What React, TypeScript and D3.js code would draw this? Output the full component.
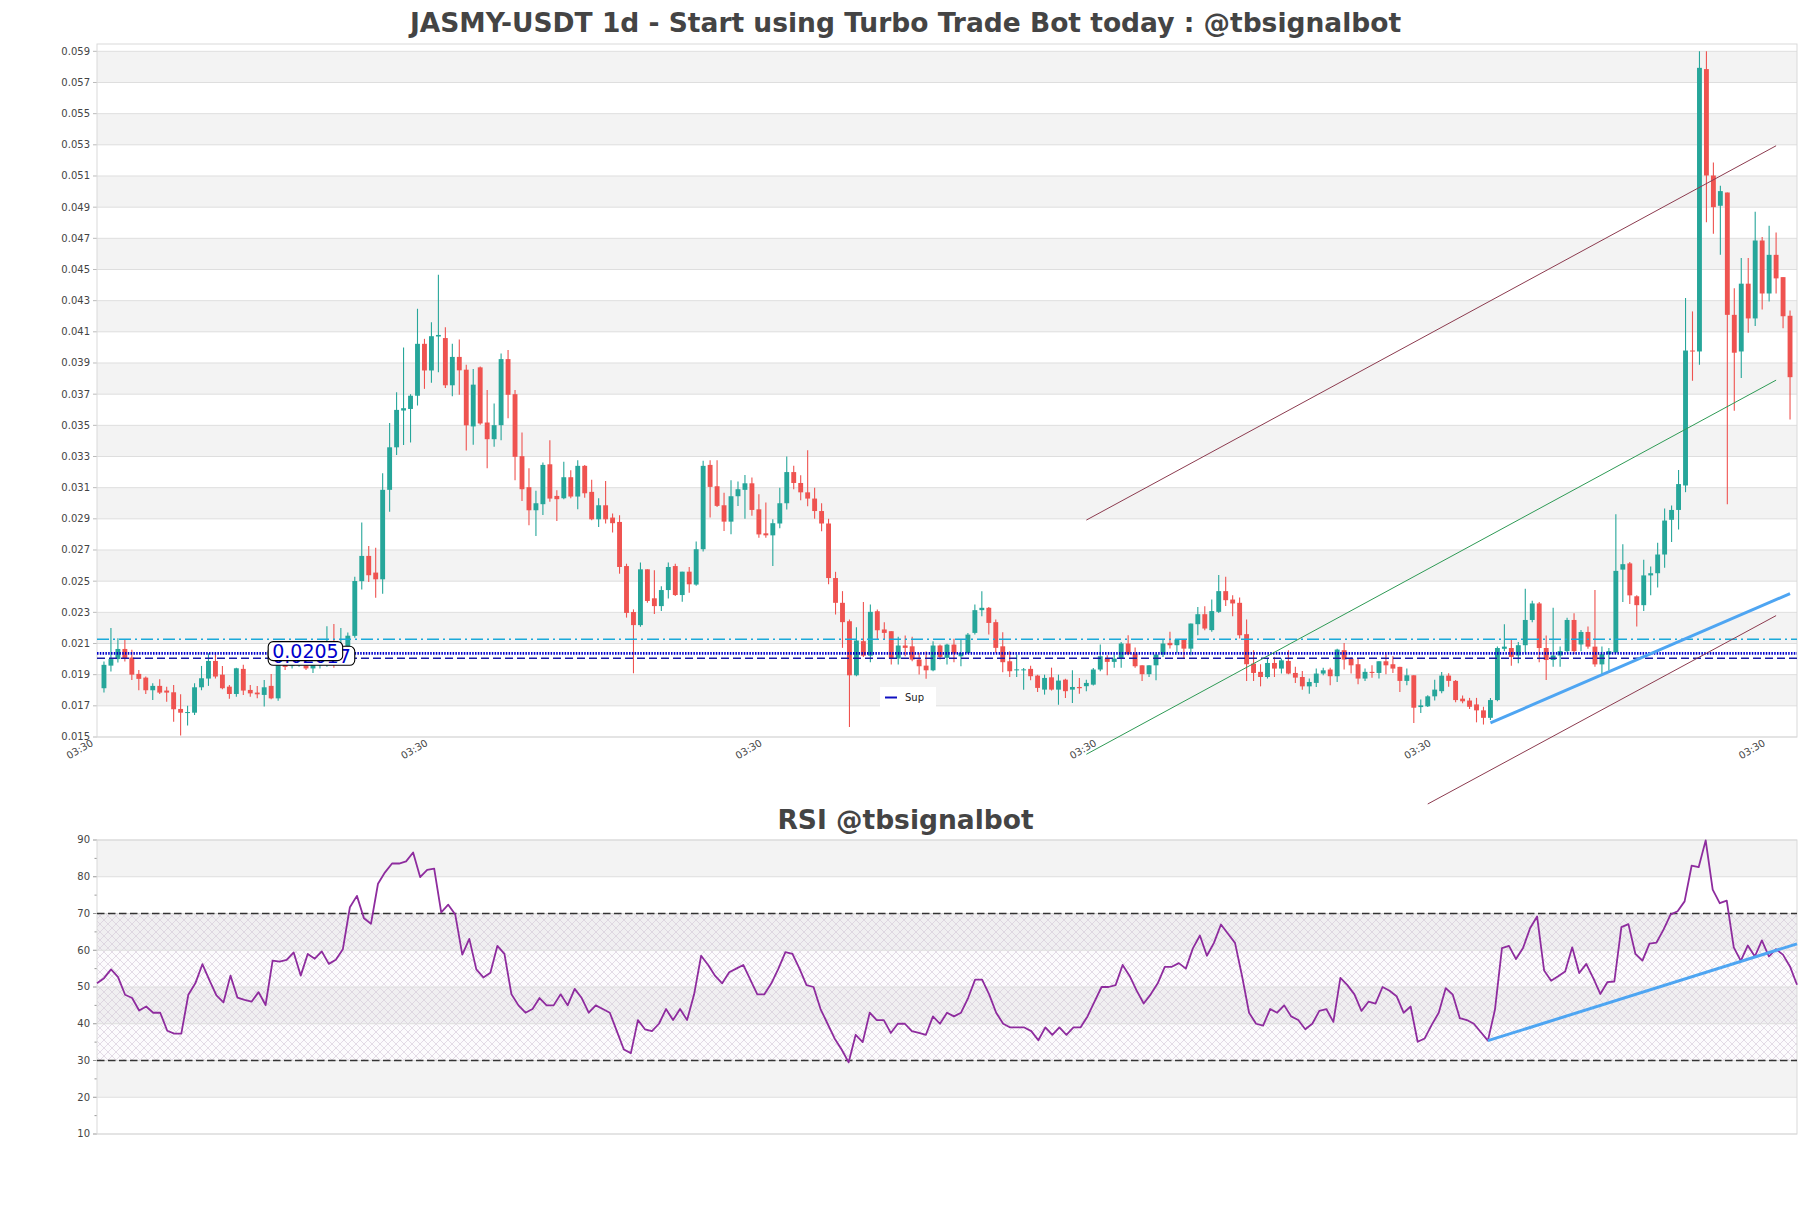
import { useEffect, useRef } from "react";
import * as d3 from "d3";

// daily candles, oldest first
const candleOpen = [
  0.01813, 0.01958, 0.02, 0.02065, 0.0201, 0.01905, 0.01881, 0.018, 0.01828, 0.01798,
  0.01787, 0.0168, 0.01656, 0.01656, 0.01819, 0.01875, 0.01988, 0.019, 0.01823, 0.01776,
  0.01937, 0.01802, 0.01785, 0.0177, 0.01828, 0.01748, 0.0197, 0.01955, 0.0196, 0.0196,
  0.0194, 0.0196, 0.0197, 0.0204, 0.02, 0.0208, 0.02149, 0.025, 0.02662, 0.02555,
  0.02512, 0.03086, 0.03359, 0.03595, 0.03605, 0.0369, 0.04023, 0.03852, 0.0407, 0.0406,
  0.03757, 0.03939, 0.03857, 0.03493, 0.03872, 0.03518, 0.03411, 0.03501, 0.03925, 0.037,
  0.03302, 0.03103, 0.02955, 0.02994, 0.0325, 0.03047, 0.03032, 0.03167, 0.03043, 0.0324,
  0.03073, 0.02897, 0.02987, 0.02908, 0.0288, 0.02597, 0.02302, 0.02218, 0.02576, 0.0239,
  0.0234, 0.02443, 0.02597, 0.02411, 0.02561, 0.02478, 0.02705, 0.03246, 0.03109, 0.02987,
  0.02882, 0.03045, 0.03086, 0.03128, 0.02961, 0.02807, 0.02794, 0.0287, 0.03, 0.032,
  0.0313, 0.0307, 0.0303, 0.0295, 0.0287, 0.0252, 0.02361, 0.02243, 0.01896, 0.02115,
  0.02022, 0.02307, 0.0219, 0.02179, 0.02003, 0.02087, 0.02082, 0.01997, 0.01958, 0.01928,
  0.02087, 0.02008, 0.02093, 0.02018, 0.02039, 0.02168, 0.02314, 0.02329, 0.02237, 0.02082,
  0.01986, 0.01928, 0.01928, 0.01937, 0.01894, 0.01804, 0.01883, 0.01804, 0.01868, 0.01804,
  0.01821, 0.01826, 0.01836, 0.01933, 0.02003, 0.01982, 0.02003, 0.021, 0.02035, 0.0196,
  0.01903, 0.0196, 0.02029, 0.02104, 0.02089, 0.02125, 0.02067, 0.02224, 0.02288, 0.02186,
  0.02303, 0.02436, 0.02382, 0.02361, 0.0216, 0.01971, 0.01918, 0.01885, 0.01975, 0.01939,
  0.01988, 0.01911, 0.01885, 0.01825, 0.01847, 0.01907, 0.01933, 0.0189, 0.02057, 0.02003,
  0.01967, 0.01875, 0.01918, 0.01911, 0.01986, 0.01967, 0.0195, 0.0186, 0.01896, 0.01692,
  0.01697, 0.01761, 0.01794, 0.01894, 0.0186, 0.01746, 0.01734, 0.01709, 0.01671, 0.01623,
  0.01737, 0.02066, 0.02071, 0.02023, 0.02089, 0.02251, 0.02357, 0.02071, 0.01994, 0.02023,
  0.02051, 0.02251, 0.02094, 0.02174, 0.0208, 0.01966, 0.02031, 0.02043, 0.02574, 0.02614,
  0.02403, 0.02346, 0.02537, 0.02551, 0.02671, 0.02894, 0.02957, 0.03114, 0.0398, 0.03974,
  0.05786, 0.05103, 0.04909, 0.04994, 0.04209, 0.03974, 0.04409, 0.04186, 0.04686, 0.04346,
  0.04594, 0.04451, 0.04203,
];
const candleHigh = [
  0.01984, 0.022, 0.02134, 0.02127, 0.0206, 0.0193, 0.01888, 0.01845, 0.0187, 0.01823,
  0.01834, 0.01774, 0.017, 0.01845, 0.01956, 0.02037, 0.02037, 0.01956, 0.01834, 0.01945,
  0.01963, 0.01834, 0.01828, 0.01866, 0.01905, 0.01973, 0.0199, 0.02, 0.02, 0.0199,
  0.0199, 0.0199, 0.0221, 0.02225, 0.022, 0.0217, 0.02529, 0.02876, 0.02726, 0.02715,
  0.03193, 0.03515, 0.03712, 0.04, 0.037, 0.04248, 0.04055, 0.04162, 0.04467, 0.0413,
  0.04024, 0.0405, 0.03889, 0.03861, 0.03878, 0.03726, 0.0364, 0.03961, 0.03983, 0.03726,
  0.03454, 0.03225, 0.0308, 0.03261, 0.03405, 0.03083, 0.03266, 0.03212, 0.03276, 0.03246,
  0.0315, 0.03032, 0.03143, 0.02934, 0.02923, 0.02612, 0.02319, 0.02619, 0.02576, 0.0257,
  0.02468, 0.02619, 0.02612, 0.02561, 0.02591, 0.02754, 0.03272, 0.03276, 0.03276, 0.03068,
  0.03148, 0.03139, 0.03182, 0.03165, 0.03058, 0.03004, 0.02897, 0.031, 0.033, 0.0324,
  0.0318, 0.0334, 0.031, 0.03, 0.029, 0.0256, 0.02436, 0.02254, 0.02205, 0.02367,
  0.0235, 0.02318, 0.02237, 0.02179, 0.02143, 0.02151, 0.02143, 0.0204, 0.02049, 0.02115,
  0.02093, 0.02099, 0.0213, 0.02125, 0.02168, 0.0235, 0.02436, 0.02335, 0.02254, 0.02172,
  0.0205, 0.0203, 0.01943, 0.01958, 0.019, 0.019, 0.01945, 0.019, 0.01873, 0.01928,
  0.01879, 0.01868, 0.01943, 0.02093, 0.02025, 0.02031, 0.0211, 0.02153, 0.02074, 0.0196,
  0.0196, 0.02029, 0.02125, 0.02175, 0.02125, 0.02125, 0.02228, 0.02335, 0.02339, 0.02382,
  0.02539, 0.02528, 0.0241, 0.02395, 0.02254, 0.02057, 0.01967, 0.02003, 0.02014, 0.02003,
  0.02057, 0.0195, 0.01924, 0.01875, 0.01939, 0.01945, 0.01945, 0.02067, 0.02104, 0.02014,
  0.02003, 0.01939, 0.0196, 0.01986, 0.02035, 0.02018, 0.0195, 0.01939, 0.01896, 0.0174,
  0.01768, 0.01868, 0.01917, 0.01909, 0.01866, 0.01766, 0.01751, 0.01751, 0.01694, 0.01751,
  0.0208, 0.02223, 0.02123, 0.02109, 0.02451, 0.02374, 0.02366, 0.02151, 0.02329, 0.0208,
  0.02266, 0.02294, 0.02186, 0.02209, 0.02443, 0.0208, 0.02071, 0.02929, 0.02737, 0.02623,
  0.02409, 0.02637, 0.02594, 0.02746, 0.02966, 0.02986, 0.03214, 0.04317, 0.04231, 0.059,
  0.059, 0.05186, 0.05037, 0.04994, 0.0438, 0.04574, 0.04574, 0.04871, 0.04709, 0.0478,
  0.04737, 0.04451, 0.04237,
];
const candleLow = [
  0.01785, 0.0192, 0.01978, 0.01984, 0.01866, 0.018, 0.01776, 0.01738, 0.01776, 0.01727,
  0.01598, 0.01509, 0.01573, 0.01641, 0.018, 0.01828, 0.01875, 0.01806, 0.01746, 0.01759,
  0.0177, 0.01759, 0.01748, 0.01695, 0.01742, 0.01733, 0.0193, 0.0194, 0.0195, 0.0193,
  0.0191, 0.0194, 0.0195, 0.01944, 0.0197, 0.0206, 0.02137, 0.02447, 0.02495, 0.02394,
  0.0242, 0.02945, 0.03309, 0.03373, 0.0339, 0.03627, 0.03734, 0.03773, 0.0384, 0.0374,
  0.03686, 0.03697, 0.03339, 0.03375, 0.03503, 0.03225, 0.03362, 0.03405, 0.03546, 0.03148,
  0.03015, 0.02859, 0.0279, 0.02925, 0.03009, 0.02886, 0.03026, 0.03032, 0.02961, 0.03036,
  0.02891, 0.02848, 0.0287, 0.02812, 0.02548, 0.02266, 0.01909, 0.02208, 0.02362, 0.0229,
  0.02308, 0.02389, 0.02405, 0.02368, 0.02426, 0.02471, 0.0269, 0.02908, 0.02976, 0.02822,
  0.02801, 0.02983, 0.029, 0.02919, 0.02779, 0.02779, 0.02597, 0.0284, 0.0296, 0.0309,
  0.0302, 0.0298, 0.029, 0.0282, 0.0248, 0.02286, 0.02072, 0.01564, 0.0189, 0.02014,
  0.0198, 0.02125, 0.02125, 0.01965, 0.01965, 0.02018, 0.01986, 0.01901, 0.01873, 0.01922,
  0.01997, 0.01965, 0.0198, 0.01954, 0.02033, 0.02157, 0.02275, 0.02157, 0.0204, 0.01916,
  0.01885, 0.01885, 0.01804, 0.01864, 0.01788, 0.01772, 0.01798, 0.01707, 0.01751, 0.01718,
  0.01778, 0.01794, 0.01831, 0.01922, 0.01896, 0.01945, 0.01945, 0.02025, 0.01945, 0.0186,
  0.01885, 0.01864, 0.02014, 0.02068, 0.0204, 0.02003, 0.02025, 0.02153, 0.02185, 0.02175,
  0.02296, 0.0234, 0.02275, 0.02132, 0.0186, 0.0186, 0.01825, 0.01875, 0.01885, 0.01907,
  0.01903, 0.01847, 0.01804, 0.01778, 0.01821, 0.01896, 0.01832, 0.01853, 0.01933, 0.01907,
  0.01839, 0.0186, 0.01881, 0.01875, 0.01903, 0.01911, 0.01789, 0.01832, 0.0159, 0.01654,
  0.01693, 0.01735, 0.0178, 0.01823, 0.01723, 0.01717, 0.0168, 0.01594, 0.0158, 0.01609,
  0.01729, 0.02051, 0.01957, 0.01974, 0.02037, 0.02237, 0.0198, 0.01866, 0.01951, 0.01951,
  0.02043, 0.02031, 0.02051, 0.02066, 0.01951, 0.01903, 0.01926, 0.02037, 0.02366, 0.02354,
  0.02209, 0.02309, 0.02409, 0.0246, 0.02586, 0.02751, 0.02831, 0.03071, 0.03786, 0.03889,
  0.04803, 0.04729, 0.04594, 0.02994, 0.03594, 0.03803, 0.04094, 0.04137, 0.04243, 0.04294,
  0.04346, 0.04123, 0.03537,
];
const candleClose = [
  0.01963, 0.02, 0.02065, 0.02005, 0.019, 0.01873, 0.018, 0.01828, 0.01785, 0.01785,
  0.01678, 0.01656, 0.0166, 0.01819, 0.01877, 0.01988, 0.01888, 0.01813, 0.01776, 0.01941,
  0.01798, 0.0178, 0.01774, 0.01819, 0.01748, 0.01963, 0.0195, 0.0197, 0.0197, 0.0194,
  0.01962, 0.0197, 0.02, 0.0199, 0.0203, 0.0215, 0.02501, 0.02662, 0.02538, 0.02512,
  0.03086, 0.03359, 0.03599, 0.0361, 0.0369, 0.04023, 0.03852, 0.04072, 0.0408, 0.03757,
  0.03939, 0.03853, 0.035, 0.03761, 0.03512, 0.03411, 0.03501, 0.03925, 0.03696, 0.03298,
  0.0309, 0.02955, 0.03, 0.03246, 0.0303, 0.03026, 0.03167, 0.03043, 0.0324, 0.03064,
  0.02897, 0.02987, 0.02897, 0.02872, 0.02591, 0.02296, 0.02218, 0.02576, 0.02373, 0.0234,
  0.02443, 0.02591, 0.02411, 0.02561, 0.0248, 0.02705, 0.0324, 0.03105, 0.02983, 0.02882,
  0.03045, 0.0309, 0.03128, 0.02957, 0.028, 0.02794, 0.02872, 0.03, 0.032, 0.0313,
  0.0307, 0.0303, 0.0295, 0.0287, 0.0252, 0.02361, 0.02237, 0.01896, 0.02119, 0.02022,
  0.02303, 0.02185, 0.02168, 0.02003, 0.02087, 0.02072, 0.01997, 0.01954, 0.01928, 0.02087,
  0.02014, 0.02093, 0.02035, 0.02039, 0.02157, 0.02314, 0.02329, 0.02232, 0.02072, 0.0198,
  0.01922, 0.01934, 0.01934, 0.0189, 0.01815, 0.01879, 0.01804, 0.01862, 0.01794, 0.01821,
  0.01813, 0.01847, 0.01933, 0.02018, 0.01982, 0.02003, 0.021, 0.02031, 0.01954, 0.01903,
  0.0196, 0.02029, 0.021, 0.02089, 0.02125, 0.02067, 0.02228, 0.02288, 0.02196, 0.02308,
  0.02436, 0.02378, 0.02357, 0.02153, 0.01967, 0.01911, 0.01885, 0.01975, 0.01939, 0.01992,
  0.01907, 0.01881, 0.01825, 0.01853, 0.01907, 0.01928, 0.0189, 0.02061, 0.01997, 0.0196,
  0.01875, 0.01918, 0.01911, 0.01986, 0.0196, 0.01939, 0.0186, 0.01896, 0.01688, 0.01703,
  0.01761, 0.01804, 0.01894, 0.0186, 0.01737, 0.01729, 0.01694, 0.01671, 0.01623, 0.01737,
  0.02071, 0.0208, 0.02014, 0.02089, 0.02251, 0.02357, 0.02071, 0.01994, 0.02023, 0.02051,
  0.02251, 0.02051, 0.02174, 0.0208, 0.01966, 0.02031, 0.02051, 0.02566, 0.02609, 0.02409,
  0.02346, 0.02537, 0.02551, 0.02671, 0.02889, 0.02957, 0.03123, 0.0398, 0.03974, 0.05794,
  0.05103, 0.049, 0.05003, 0.04209, 0.03966, 0.04409, 0.04186, 0.04686, 0.04346, 0.04594,
  0.04443, 0.042, 0.03809,
];

const rsiValues = [
  51.0, 52.4, 54.8, 52.7, 47.9, 47.0, 43.6, 44.7, 43.0, 43.0,
  38.1, 37.3, 37.3, 47.9, 51.0, 56.2, 51.9, 47.7, 45.8, 53.1,
  47.1, 46.5, 46.0, 48.6, 45.1, 57.2, 56.9, 57.4, 59.4, 53.1,
  59.0, 57.7, 59.7, 56.3, 57.4, 60.3, 71.7, 74.8, 68.7, 67.2,
  78.1, 81.2, 83.6, 83.6, 84.2, 86.6, 79.9, 81.9, 82.2, 70.3,
  72.4, 69.7, 58.8, 63.1, 54.8, 52.6, 53.9, 61.2, 59, 48,
  45, 43, 44, 47, 45, 45, 48, 45, 49.5, 47,
  43, 45, 44, 43, 38, 33, 32, 41, 38.5, 38,
  40, 44, 41, 44, 41, 48, 58.5, 56, 53, 51,
  54, 55, 56, 52, 48, 48, 51, 55, 59.5, 59,
  55, 50.5, 50, 44, 40, 36, 33, 29.5, 37, 35,
  43, 41, 41, 37.5, 40, 40, 38, 37.5, 37, 42,
  40, 43, 42, 43, 47, 52, 52, 48, 43, 40,
  39, 39, 39, 38, 35.5, 39, 37, 39, 37, 39,
  39, 42, 46, 50, 50, 50.5, 56, 53, 49, 45.5,
  48, 51, 55.5, 55.5, 56.5, 55, 60.5, 64, 58.5, 62,
  67, 64.5, 62, 53, 43, 40, 39.5, 44, 43, 45,
  42, 41, 38.5, 40, 43.5, 44, 40.5, 52.5, 50.5, 48,
  43.5, 46, 45.5, 50, 49, 47.5, 43.0, 44.7, 35.1, 36.0,
  39.7, 43.0, 49.7, 47.9, 41.5, 41.0, 40.0, 37.7, 35.4, 43.8,
  60.6, 61.2, 57.6, 60.6, 66.0, 69.2, 54.5, 51.7, 52.9, 54.2,
  60.8, 53.8, 56.3, 52.4, 48.1, 51.3, 51.5, 66.3, 67.1, 59.0,
  57.2, 61.8, 62.1, 65.6, 69.7, 70.6, 73.3, 83.0, 82.6, 89.9,
  76.5, 72.8, 73.5, 60.8, 57.1, 61.3, 58.3, 62.7, 58.3, 60.3,
  58.8, 55.6, 50.6,
];

const priceTicks = [
  0.015, 0.017, 0.019, 0.021, 0.023, 0.025, 0.027, 0.029, 0.031, 0.033, 0.035, 0.037,
  0.039, 0.041, 0.043, 0.045, 0.047, 0.049, 0.051, 0.053, 0.055, 0.057, 0.059,
];
const rsiTicks = [10, 20, 30, 40, 50, 60, 70, 80, 90];
const rsiMinorTicks = [15, 25, 35, 45, 55, 65, 75, 85];
const timeTickIndex = [-1, 47, 95, 143, 191, 239];
const timeTickLabels = ["03:30", "03:30", "03:30", "03:30", "03:30", "03:30"];

// channel lines [startIndex, startPrice, endIndex, endPrice]
const upperChannel = [141, 0.02892, 240, 0.05294];
const middleChannel = [141, 0.01389, 240, 0.0379];
const lowerChannel = [190, 0.0107, 240, 0.02279];
const supportTrend = [199, 0.0159, 242, 0.0242];
const rsiTrend = [198, 35.4, 242, 61.75];

const levelCyan = 0.02127;
const levelSup = 0.02037;
const levelNavy = 0.02005;
const labelFront = "0.0205";
const labelBack = "0.02017";
const labelIndex = 24;
const labelFrontValue = 0.0205;
const labelBackValue = 0.0202;

export default function App() {
  const ref = useRef<SVGSVGElement | null>(null);

  useEffect(() => {
    const svg = d3.select(ref.current);
    svg.selectAll("*").remove();
    const font = "DejaVu Sans, sans-serif";

    const main = { left: 97, right: 1797, top: 44, bottom: 737 };
    const low = { left: 97, right: 1797, top: 840, bottom: 1134 };
    const n = candleClose.length;

    const x = d3.scaleLinear().domain([-1, n]).range([main.left, main.right]);
    const y = d3.scaleLinear().domain([0.015, 0.05947]).range([main.bottom, main.top]);
    const xr = d3.scaleLinear().domain([0, n - 1]).range([low.left, low.right]);
    const yr = d3.scaleLinear().domain([10, 90]).range([low.bottom, low.top]);

    svg.append("rect").attr("width", 1811).attr("height", 1208).attr("fill", "#fff");

    const defs = svg.append("defs");
    const pat = defs
      .append("pattern")
      .attr("id", "rsiHatch")
      .attr("patternUnits", "userSpaceOnUse")
      .attr("width", 8)
      .attr("height", 8);
    pat
      .append("path")
      .attr("d", "M0,0L8,8M8,0L0,8M-1,7L1,9M7,-1L9,1")
      .attr("stroke", "#d2c6d6")
      .attr("stroke-width", 0.6)
      .attr("fill", "none");

    // titles
    svg
      .append("text")
      .attr("x", 905.5)
      .attr("y", 32)
      .attr("text-anchor", "middle")
      .style("font-family", font)
      .style("font-weight", "bold")
      .style("font-size", "26.5px")
      .attr("fill", "#444")
      .text("JASMY-USDT 1d - Start using Turbo Trade Bot today : @tbsignalbot");

    svg
      .append("text")
      .attr("x", 905.5)
      .attr("y", 829)
      .attr("text-anchor", "middle")
      .style("font-family", font)
      .style("font-weight", "bold")
      .style("font-size", "26.5px")
      .attr("fill", "#444")
      .text("RSI @tbsignalbot");

    // ---- price panel ----
    const g = svg.append("g");
    const top = y.domain()[1];
    priceTicks.forEach((t, i) => {
      const next = i + 1 < priceTicks.length ? priceTicks[i + 1] : top;
      g.append("rect")
        .attr("x", main.left)
        .attr("width", main.right - main.left)
        .attr("y", y(next))
        .attr("height", y(t) - y(next))
        .attr("fill", i % 2 === 1 ? "#f3f3f3" : "#fff");
    });
    priceTicks.forEach((t) => {
      g.append("line")
        .attr("x1", main.left)
        .attr("x2", main.right)
        .attr("y1", y(t))
        .attr("y2", y(t))
        .attr("stroke", "#dedede")
        .attr("stroke-width", 1);
      g.append("line")
        .attr("x1", main.left - 4)
        .attr("x2", main.left)
        .attr("y1", y(t))
        .attr("y2", y(t))
        .attr("stroke", "#bbb");
      g.append("text")
        .attr("x", main.left - 7)
        .attr("y", y(t))
        .attr("dy", "0.34em")
        .attr("text-anchor", "end")
        .style("font-family", font)
        .style("font-size", "10px")
        .attr("fill", "#444")
        .text(t.toFixed(3));
    });
    g.append("rect")
      .attr("x", main.left)
      .attr("y", main.top)
      .attr("width", main.right - main.left)
      .attr("height", main.bottom - main.top)
      .attr("fill", "none")
      .attr("stroke", "#d9d9d9");

    timeTickIndex.forEach((t, i) => {
      const tx = x(t) - 3;
      g.append("text")
        .attr("transform", `translate(${tx},${main.bottom + 8}) rotate(-30)`)
        .attr("text-anchor", "end")
        .style("font-family", font)
        .style("font-size", "10px")
        .attr("fill", "#444")
        .text(timeTickLabels[i]);
    });

    // candles
    const bodyW = (x(1) - x(0)) * 0.7;
    const candles = g
      .selectAll(".candle")
      .data(candleClose.map((c, i) => ({ i, o: candleOpen[i], h: candleHigh[i], l: candleLow[i], c })))
      .enter()
      .append("g");
    candles
      .append("line")
      .attr("x1", (d) => x(d.i))
      .attr("x2", (d) => x(d.i))
      .attr("y1", (d) => y(d.h))
      .attr("y2", (d) => y(d.l))
      .attr("stroke", (d) => (d.c >= d.o ? "#26a69a" : "#ef5350"))
      .attr("stroke-width", 1.1);
    candles
      .append("rect")
      .attr("x", (d) => x(d.i) - bodyW / 2)
      .attr("width", bodyW)
      .attr("y", (d) => y(Math.max(d.o, d.c)))
      .attr("height", (d) => Math.max(1, Math.abs(y(d.o) - y(d.c))))
      .attr("fill", (d) => (d.c >= d.o ? "#26a69a" : "#ef5350"));

    // level lines
    const hline = (v: number, color: string, w: number, dash: string) =>
      g
        .append("line")
        .attr("x1", main.left)
        .attr("x2", main.right)
        .attr("y1", y(v))
        .attr("y2", y(v))
        .attr("stroke", color)
        .attr("stroke-width", w)
        .attr("stroke-dasharray", dash);
    hline(levelCyan, "#1aa9d9", 1.5, "12,4,2,4");
    hline(levelSup, "#0000cc", 2.8, "1.5,1.3");
    hline(levelNavy, "#1a1aa6", 1.4, "8,4");

    // channel lines (not clipped)
    const seg = (s: number[], color: string, w: number) =>
      g
        .append("line")
        .attr("x1", x(s[0]))
        .attr("y1", y(s[1]))
        .attr("x2", x(s[2]))
        .attr("y2", y(s[3]))
        .attr("stroke", color)
        .attr("stroke-width", w);
    seg(upperChannel, "#8c3b4f", 1);
    seg(middleChannel, "#2e9a55", 1);
    seg(lowerChannel, "#8c3b4f", 1);
    seg(supportTrend, "#4ea5f2", 3);

    // price labels
    const tag = (txt: string, v: number) => {
      const t = g
        .append("text")
        .attr("x", x(labelIndex) + 1)
        .attr("y", y(v))
        .attr("dy", "0.36em")
        .style("font-family", font)
        .style("font-size", "19px")
        .attr("fill", "#0000cc")
        .text(txt);
      const b = (t.node() as SVGTextElement).getBBox();
      g.insert("rect", () => t.node())
        .attr("x", b.x - 4)
        .attr("y", b.y + 1.5)
        .attr("width", b.width + 8)
        .attr("height", b.height - 3)
        .attr("rx", 5)
        .attr("fill", "#fff")
        .attr("stroke", "#000")
        .attr("stroke-width", 1.1);
    };
    tag(labelBack, labelBackValue);
    tag(labelFront, labelFrontValue);

    // legend
    const lx = main.left + (main.right - main.left) * 0.4606;
    const ly = 687;
    const leg = g.append("g");
    leg.append("rect").attr("x", lx).attr("y", ly).attr("width", 56).attr("height", 20).attr("fill", "#fff");
    leg
      .append("line")
      .attr("x1", lx + 5)
      .attr("x2", lx + 17)
      .attr("y1", ly + 10.5)
      .attr("y2", ly + 10.5)
      .attr("stroke", "#1010c0")
      .attr("stroke-width", 2);
    leg
      .append("text")
      .attr("x", lx + 25)
      .attr("y", ly + 14)
      .style("font-family", font)
      .style("font-size", "10px")
      .attr("fill", "#222")
      .text("Sup");

    // ---- RSI panel ----
    const r = svg.append("g");
    rsiTicks.slice(0, -1).forEach((t, i) => {
      r.append("rect")
        .attr("x", low.left)
        .attr("width", low.right - low.left)
        .attr("y", yr(rsiTicks[i + 1]))
        .attr("height", yr(t) - yr(rsiTicks[i + 1]))
        .attr("fill", i % 2 === 1 ? "#f3f3f3" : "#fff");
    });
    r.append("rect")
      .attr("x", low.left)
      .attr("width", low.right - low.left)
      .attr("y", yr(70))
      .attr("height", yr(30) - yr(70))
      .attr("fill", "rgba(190,160,200,0.04)");
    r.append("rect")
      .attr("x", low.left)
      .attr("width", low.right - low.left)
      .attr("y", yr(70))
      .attr("height", yr(30) - yr(70))
      .attr("fill", "url(#rsiHatch)");
    rsiTicks.forEach((t) => {
      r.append("line")
        .attr("x1", low.left)
        .attr("x2", low.right)
        .attr("y1", yr(t))
        .attr("y2", yr(t))
        .attr("stroke", "#dedede");
      r.append("line")
        .attr("x1", low.left - 4)
        .attr("x2", low.left)
        .attr("y1", yr(t))
        .attr("y2", yr(t))
        .attr("stroke", "#999");
      r.append("text")
        .attr("x", low.left - 7)
        .attr("y", yr(t))
        .attr("dy", "0.34em")
        .attr("text-anchor", "end")
        .style("font-family", font)
        .style("font-size", "10px")
        .attr("fill", "#444")
        .text(t);
    });
    rsiMinorTicks.forEach((t) => {
      r.append("line")
        .attr("x1", low.left - 2.5)
        .attr("x2", low.left)
        .attr("y1", yr(t))
        .attr("y2", yr(t))
        .attr("stroke", "#999");
    });
    r.append("rect")
      .attr("x", low.left)
      .attr("y", low.top)
      .attr("width", low.right - low.left)
      .attr("height", low.bottom - low.top)
      .attr("fill", "none")
      .attr("stroke", "#d9d9d9");
    [70, 30].forEach((v) =>
      r
        .append("line")
        .attr("x1", low.left)
        .attr("x2", low.right)
        .attr("y1", yr(v))
        .attr("y2", yr(v))
        .attr("stroke", "#333")
        .attr("stroke-width", 1.3)
        .attr("stroke-dasharray", "7.5,3.5")
    );

    const rsiLine = d3
      .line<number>()
      .x((_, i) => xr(i))
      .y((d) => yr(d));
    r.append("path")
      .attr("d", rsiLine(rsiValues))
      .attr("fill", "none")
      .attr("stroke", "#8e2c9e")
      .attr("stroke-width", 1.8)
      .attr("stroke-linejoin", "round");

    r.append("line")
      .attr("x1", xr(rsiTrend[0]))
      .attr("y1", yr(rsiTrend[1]))
      .attr("x2", xr(rsiTrend[2]))
      .attr("y2", yr(rsiTrend[3]))
      .attr("stroke", "#4ea5f2")
      .attr("stroke-width", 3);
  }, []);

  return (
    <svg
      ref={ref}
      width={1811}
      height={1208}
      style={{ position: "absolute", left: 0, top: 0 }}
    />
  );
}
